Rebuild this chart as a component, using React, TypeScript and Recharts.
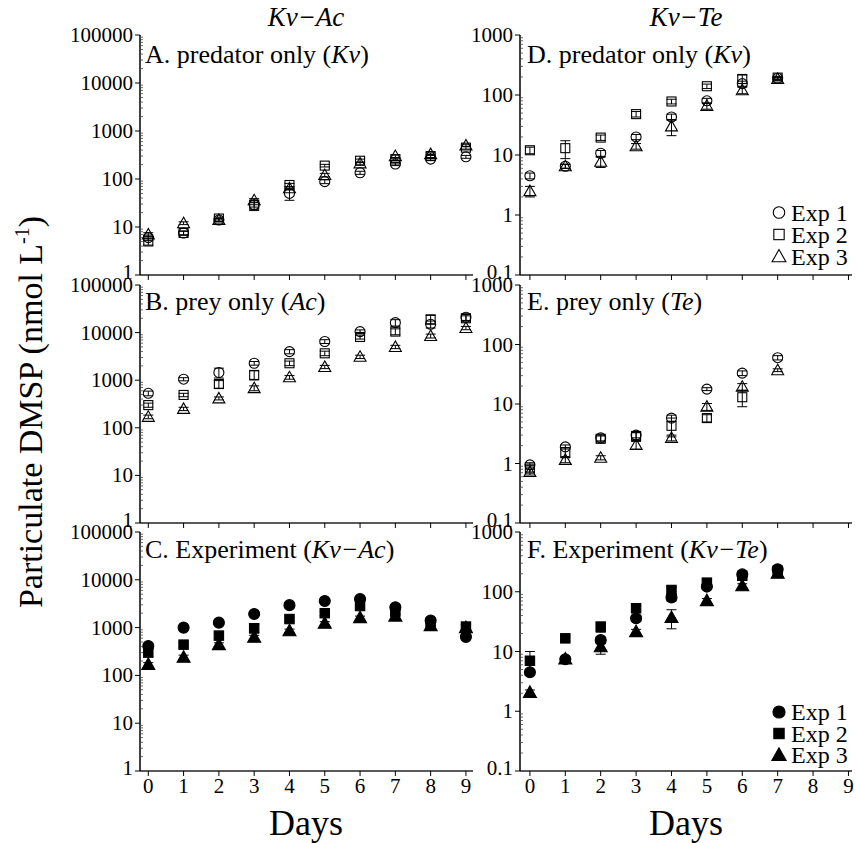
import React from 'react';
import { ScatterChart, Scatter, XAxis, YAxis, ErrorBar } from 'recharts';

const FONT = '"Liberation Serif", "Times New Roman", serif';

// ---------- axis ticks ----------
const dayTicks = [0, 1, 2, 3, 4, 5, 6, 7, 8, 9];
const leftDecades = [1, 10, 100, 1000, 10000, 100000];
const rightDecades = [0.1, 1, 10, 100, 1000];

// ---------- Kv-Ac column (days 0-9) ----------
const daysAc = [0, 1, 2, 3, 4, 5, 6, 7, 8, 9];
// A. predator only (Kv)
const aExp1 = [6, 7.5, 14, 29, 50, 88, 135, 205, 260, 290];
const aExp2 = [5, 7.5, 15, 29, 75, 190, 240, 255, 300, 450];
const aExp3 = [7, 12, 14, 36, 64, 121, 212, 300, 330, 500];
const aErr1 = [0.8, 0.6, 1, 3, 14, 8, 10, 15, 15, 20];
const aErr2 = [0.8, 0.8, 1, 7, 6, 12, 20, 15, 20, 30];
const aErr3 = [0.6, 0.8, 1, 3, 5, 10, 15, 20, 20, 30];
// B. prey only (Ac)
const bExp1 = [530, 1050, 1450, 2270, 3980, 6500, 10500, 16200, 15000, 21000];
const bExp2 = [300, 490, 830, 1290, 2270, 3670, 8100, 10500, 19000, 20000];
const bExp3 = [170, 250, 415, 680, 1150, 1900, 3100, 5000, 8500, 12500];
const bErr1 = [60, 80, 340, 200, 400, 600, 900, 2500, 2500, 3000];
const bErr2 = [30, 40, 150, 280, 250, 400, 800, 1500, 4000, 2500];
const bErr3 = [15, 20, 30, 80, 100, 150, 250, 400, 800, 1000];
// C. Experiment (Kv-Ac)
const cExp1 = [410, 1000, 1270, 1930, 2950, 3600, 3980, 2660, 1400, 640];
const cExp2 = [300, 440, 680, 970, 1510, 2000, 2830, 2150, 1250, 1050];
const cExp3 = [170, 240, 440, 630, 860, 1230, 1620, 1740, 1100, 1000];
const cErr1 = [40, 80, 100, 150, 250, 300, 500, 300, 200, 60];
const cErr2 = [50, 40, 80, 200, 150, 200, 400, 300, 150, 100];
const cErr3 = [15, 25, 40, 60, 70, 100, 120, 200, 100, 100];

// ---------- Kv-Te column (days 0-7) ----------
const daysTe = [0, 1, 2, 3, 4, 5, 6, 7];
// D. predator only (Kv)
const dExp1 = [4.5, 6.5, 10.7, 20, 43, 80, 155, 190];
const dExp2 = [12, 13, 19.5, 48, 78, 140, 185, 195];
const dExp3 = [2.5, 6.5, 7.7, 14, 30, 66, 120, 185];
const dErr1 = [0.5, 0.5, 1.2, 2, 5, 8, 15, 10];
const dErr2 = [1.5, 4.3, 2, 5, 7, 12, 30, 10];
const dErr3 = [0.5, 0.5, 1.5, 1.5, 9, 8, 15, 10];
// E. prey only (Te)
const eExp1 = [0.95, 1.9, 2.7, 3.0, 5.8, 17.8, 33, 60];
const eExp2 = [0.82, 1.55, 2.6, 2.9, 4.3, 5.8, 13, null];
const eExp3 = [0.72, 1.15, 1.25, 2.05, 2.7, 9, 19.5, 37];
const eErr1 = [0.08, 0.15, 0.3, 0.3, 0.7, 1, 3, 5];
const eErr2 = [0.1, 0.3, 0.3, 0.4, 1.5, 0.8, 4, 0];
const eErr3 = [0.08, 0.12, 0.1, 0.3, 0.3, 1.2, 2.5, 2];
// F. Experiment (Kv-Te)
const fExp1 = [4.5, 7.4, 15.5, 36, 80, 122, 195, 237];
const fExp2 = [7, 16.6, 26, 53, 107, 142, 185, 225];
const fExp3 = [2.07, 7.5, 12, 21.5, 37, 71, 126, 204];
const fErr1 = [0.5, 0.6, 2, 4, 10, 12, 15, 20];
const fErr2 = [3, 1.5, 5, 6, 15, 15, 15, 20];
const fErr3 = [0.2, 0.6, 3, 2, 13, 6, 10, 15];

type Pt = { x: number; y: number; e: number };
function toPoints(xs: number[], ys: (number | null)[], es: number[]): Pt[] {
  const out: Pt[] = [];
  xs.forEach((x, i) => {
    const y = ys[i];
    if (y !== null && y !== undefined) out.push({ x, y, e: es[i] });
  });
  return out;
}

function minorTicks(decades: number[]): number[] {
  const t: number[] = [];
  for (let i = 0; i < decades.length; i++) {
    t.push(decades[i]);
    if (i < decades.length - 1) {
      for (let k = 2; k <= 9; k++) t.push(decades[i] * k);
    }
  }
  return t;
}

// ---------- markers ----------
function Marker({ cx, cy, kind, filled, scale = 1 }: any) {
  if (cx == null || cy == null || isNaN(cx) || isNaN(cy)) return <g />;
  const fill = filled ? '#000' : 'none';
  const sw = 1.1;
  if (kind === 'circle') {
    const r = (filled ? 5.5 : 5) * scale;
    return <circle cx={cx} cy={cy} r={r} fill={fill} stroke="#000" strokeWidth={sw} />;
  }
  if (kind === 'square') {
    const h = (filled ? 4.7 : 4.5) * scale;
    return <rect x={cx - h} y={cy - h} width={2 * h} height={2 * h} fill={fill} stroke="#000" strokeWidth={sw} />;
  }
  const w = (filled ? 6.5 : 6) * scale;
  const up = (filled ? 6.5 : 6) * scale;
  const dn = (filled ? 5 : 4.5) * scale;
  return (
    <polygon
      points={`${cx},${cy - up} ${cx - w},${cy + dn} ${cx + w},${cy + dn}`}
      fill={fill}
      stroke="#000"
      strokeWidth={sw}
      strokeLinejoin="miter"
    />
  );
}

const shapeFor = (kind: string, filled: boolean) => (p: any) => (
  <Marker cx={p.cx} cy={p.cy} kind={kind} filled={filled} />
);

const YAXIS_W = 80;
const TOP_M = 20;

function fmt(v: number) {
  if (v < 1) return String(Math.round(v * 10) / 10);
  return String(Math.round(v));
}

const makeYTick = (minVal: number) => (props: any) => {
  const { y, payload } = props;
  const v = payload.value;
  const lg = Math.log10(v);
  const major = Math.abs(lg - Math.round(lg)) < 1e-6;
  const edge = YAXIS_W;
  const isBottom = Math.abs(v - minVal) < 1e-9;
  if (major) {
    return (
      <g>
        <line x1={edge - 5} x2={edge} y1={y} y2={y} stroke="#000" strokeWidth={1} />
        <text x={edge - 7} y={isBottom ? y - 3 : y} textAnchor="end" dominantBaseline="central" fontSize={21} fill="#000" fontFamily={FONT}>
          {fmt(v)}
        </text>
      </g>
    );
  }
  return <line x1={edge} x2={edge + 3} y1={y} y2={y} stroke="#444" strokeWidth={0.8} />;
};

const noTick = () => <g />;

type Series = { pts: Pt[]; kind: string };
type PanelProps = {
  left: number;
  top: number;
  width: number;
  height: number;
  xDomain: [number, number];
  yDomain: [number, number];
  yTicks: number[];
  series: Series[];
  filled: boolean;
  showXLabels: boolean;
};

function Panel(p: PanelProps) {
  const W = p.width + YAXIS_W + 5;
  const H = p.height + TOP_M + 50;
  return (
    <div style={{ position: 'absolute', left: p.left - YAXIS_W, top: p.top - TOP_M, width: W, height: H }}>
      <ScatterChart width={W} height={H} margin={{ top: TOP_M, right: 5, left: 0, bottom: 0 }}>
        <XAxis
          type="number"
          dataKey="x"
          domain={p.xDomain}
          ticks={dayTicks}
          interval={0}
          allowDataOverflow
          height={50}
          tickSize={5}
          tickMargin={2}
          axisLine={{ stroke: '#222', strokeWidth: 1.5 }}
          tickLine={{ stroke: '#000', strokeWidth: 1 }}
          tick={p.showXLabels ? { fontSize: 21, fill: '#000', fontFamily: FONT } : noTick}
        />
        <XAxis xAxisId="top" orientation="top" type="number" domain={[0, 1]} height={0} tick={false} tickLine={false} axisLine={{ stroke: '#777', strokeWidth: 2 }} />
        <YAxis
          type="number"
          dataKey="y"
          scale="log"
          domain={p.yDomain}
          ticks={p.yTicks}
          interval={0}
          allowDataOverflow
          width={YAXIS_W}
          tickSize={5}
          tickMargin={2}
          tickLine={false}
          axisLine={{ stroke: '#000', strokeWidth: 1.5 }}
          tick={makeYTick(p.yDomain[0])}
        />
        <YAxis yAxisId="right" orientation="right" type="number" domain={[0, 1]} width={0} tick={false} tickLine={false} axisLine={{ stroke: '#777', strokeWidth: 2 }} />
        {p.series.map((s, i) => (
          <Scatter key={i} data={s.pts} isAnimationActive={false} shape={shapeFor(s.kind, p.filled)}>
            <ErrorBar dataKey="e" direction="y" width={5} stroke="#000" strokeWidth={1} />
          </Scatter>
        ))}
      </ScatterChart>
    </div>
  );
}

// geometry
const LEFT_X = 140;
const LEFT_W = 333;
const RIGHT_X = 520;
const RIGHT_W = 332;
const ROWS = [
  { top: 35, height: 240 },
  { top: 285, height: 238 },
  { top: 532, height: 239 },
];
const LEFT_XDOM: [number, number] = [-0.235, 9.2];
const RIGHT_XDOM: [number, number] = [-0.28, 9.1];

export default function App() {
  const leftTicks = minorTicks(leftDecades);
  const rightTicks = minorTicks(rightDecades);
  const kinds = ['circle', 'square', 'triangle'];
  const mk = (xs: number[], ys: (number | null)[][], es: number[][]) =>
    ys.map((y, i) => ({ pts: toPoints(xs, y, es[i]), kind: kinds[i] }));

  const panels: PanelProps[] = [
    { left: LEFT_X, width: LEFT_W, ...ROWS[0], xDomain: LEFT_XDOM, yDomain: [1, 100000], yTicks: leftTicks, series: mk(daysAc, [aExp1, aExp2, aExp3], [aErr1, aErr2, aErr3]), filled: false, showXLabels: false },
    { left: LEFT_X, width: LEFT_W, ...ROWS[1], xDomain: LEFT_XDOM, yDomain: [1, 100000], yTicks: leftTicks, series: mk(daysAc, [bExp1, bExp2, bExp3], [bErr1, bErr2, bErr3]), filled: false, showXLabels: false },
    { left: LEFT_X, width: LEFT_W, ...ROWS[2], xDomain: LEFT_XDOM, yDomain: [1, 100000], yTicks: leftTicks, series: mk(daysAc, [cExp1, cExp2, cExp3], [cErr1, cErr2, cErr3]), filled: true, showXLabels: true },
    { left: RIGHT_X, width: RIGHT_W, ...ROWS[0], xDomain: RIGHT_XDOM, yDomain: [0.1, 1000], yTicks: rightTicks, series: mk(daysTe, [dExp1, dExp2, dExp3], [dErr1, dErr2, dErr3]), filled: false, showXLabels: false },
    { left: RIGHT_X, width: RIGHT_W, ...ROWS[1], xDomain: RIGHT_XDOM, yDomain: [0.1, 1000], yTicks: rightTicks, series: mk(daysTe, [eExp1, eExp2, eExp3], [eErr1, eErr2, eErr3]), filled: false, showXLabels: false },
    { left: RIGHT_X, width: RIGHT_W, ...ROWS[2], xDomain: RIGHT_XDOM, yDomain: [0.1, 1000], yTicks: rightTicks, series: mk(daysTe, [fExp1, fExp2, fExp3], [fErr1, fErr2, fErr3]), filled: true, showXLabels: true },
  ];

  const labelStyle = { fontSize: 26, fontFamily: FONT, fill: '#000' } as any;
  const legendItems = ['Exp 1', 'Exp 2', 'Exp 3'];

  return (
    <div style={{ position: 'absolute', left: 0, top: 0, width: 856, height: 843, background: '#fff', fontFamily: FONT, overflow: 'hidden' }}>
      {panels.map((p, i) => (
        <Panel key={i} {...p} />
      ))}
      <svg width={856} height={843} style={{ position: 'absolute', left: 0, top: 0, pointerEvents: 'none' }}>
        {/* column titles */}
        <text x={306} y={26} textAnchor="middle" fontSize={27} fontStyle="italic" fontFamily={FONT}>Kv−Ac</text>
        <text x={686} y={26} textAnchor="middle" fontSize={27} fontStyle="italic" fontFamily={FONT}>Kv−Te</text>
        {/* panel labels */}
        <text x={145} y={63} {...labelStyle}>A. predator only (<tspan fontStyle="italic">Kv</tspan>)</text>
        <text x={145} y={310} {...labelStyle}>B. prey only (<tspan fontStyle="italic">Ac</tspan>)</text>
        <text x={145} y={558} {...labelStyle}>C. Experiment (<tspan fontStyle="italic">Kv−Ac</tspan>)</text>
        <text x={527} y={63} {...labelStyle}>D. predator only (<tspan fontStyle="italic">Kv</tspan>)</text>
        <text x={527} y={310} {...labelStyle}>E. prey only (<tspan fontStyle="italic">Te</tspan>)</text>
        <text x={527} y={558} {...labelStyle}>F. Experiment (<tspan fontStyle="italic">Kv−Te</tspan>)</text>
        {/* y axis title */}
        <text transform="translate(42,412) rotate(-90)" textAnchor="middle" fontSize={34} fontFamily={FONT}>
          Particulate DMSP (nmol L<tspan fontSize={20} dy={-13}>-1</tspan><tspan dy={13}>)</tspan>
        </text>
        {/* x axis titles */}
        <text x={306} y={835} textAnchor="middle" fontSize={36} fontFamily={FONT}>Days</text>
        <text x={686} y={835} textAnchor="middle" fontSize={36} fontFamily={FONT}>Days</text>
        {/* legends */}
        {legendItems.map((t, i) => (
          <g key={'lo' + i}>
            <Marker cx={779} cy={212.5 + i * 22} kind={kinds[i]} filled={false} scale={1.15} />
            <text x={791} y={212.5 + i * 22 + 8} fontSize={24} fontFamily={FONT}>{t}</text>
          </g>
        ))}
        {legendItems.map((t, i) => (
          <g key={'lf' + i}>
            <Marker cx={779} cy={712 + i * 21.5} kind={kinds[i]} filled={true} scale={1.1} />
            <text x={791} y={712 + i * 21.5 + 8} fontSize={24} fontFamily={FONT}>{t}</text>
          </g>
        ))}
      </svg>
    </div>
  );
}
